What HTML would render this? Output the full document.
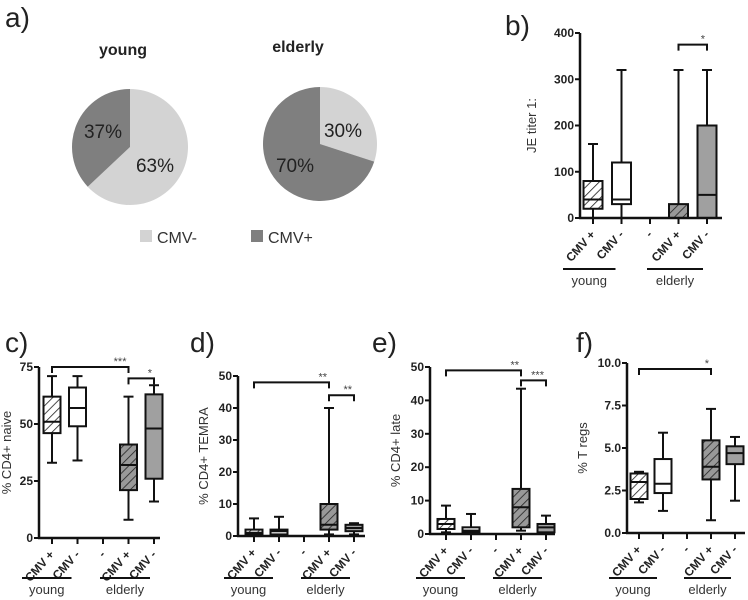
<!DOCTYPE html>
<html><head><meta charset="utf-8"><style>
body{margin:0;background:#fff}
svg{display:block;font-family:"Liberation Sans",Arial,sans-serif}
</style></head><body>
<svg id="fig" width="748" height="600" viewBox="0 0 748 600" xmlns="http://www.w3.org/2000/svg">
<defs>
<pattern id="hatch" width="6" height="6" patternUnits="userSpaceOnUse" patternTransform="rotate(45)">
<line x1="0" y1="0" x2="0" y2="6" stroke="#222" stroke-width="1.6"/>
</pattern>
</defs>
<g id="panelA">
<text x="5" y="27" font-size="28" fill="#222">a)</text>
<text x="123" y="55" font-size="16" font-weight="bold" text-anchor="middle" fill="#222">young</text>
<text x="298" y="52" font-size="16" font-weight="bold" text-anchor="middle" fill="#222">elderly</text>
<rect x="140" y="230" width="12" height="12" fill="#d3d3d3"/>
<text x="157" y="243" font-size="16" fill="#333">CMV-</text>
<rect x="251" y="230" width="12" height="12" fill="#7f7f7f"/>
<text x="268" y="243" font-size="16" fill="#333">CMV+</text>
</g>
</svg>
<script>
const pieGroups=['young','elderly'];
const pieNeg=[63,30];
const piePos=[37,70];

const cats=['CMV +','CMV -','-','CMV +','CMV -'];
const bTicks=[0,100,200,300,400];
const bLow=[0,0,null,0,0], bQ1=[20,30,null,0,0], bMed=[40,40,null,null,50], bQ3=[80,120,null,30,200], bHigh=[160,320,null,320,320];
const cTicks=[0,25,50,75];
const cLow=[33,34,null,8,16], cQ1=[46,49,null,21,26], cMed=[51,57,null,32,48], cQ3=[62,66,null,41,63], cHigh=[71,71,null,62,67];
const dTicks=[0,10,20,30,40,50];
const dLow=[0,0,null,0.5,0.5], dQ1=[0.5,0.5,null,2,1.5], dMed=[1,1.5,null,3.5,2.5], dQ3=[2,2,null,10,3.5], dHigh=[5.5,6,null,40,4];
const eTicks=[0,10,20,30,40,50];
const eLow=[0.5,0,null,1,0], eQ1=[1.5,0.5,null,2,0.5], eMed=[3,1,null,8,2], eQ3=[4.5,2,null,13.5,3], eHigh=[8.5,6,null,43.5,5.5];
const fTicks=[0,2.5,5,7.5,10];
const fTickLabels=['0.0','2.5','5.0','7.5','10.0'];
const fLow=[1.8,1.3,null,0.75,1.9], fQ1=[2.0,2.35,null,3.15,4.05], fMed=[3.0,2.9,null,3.9,4.7], fQ3=[3.5,4.35,null,5.45,5.1], fHigh=[3.6,5.9,null,7.3,5.65];

const NS='http://www.w3.org/2000/svg';
const svg=document.getElementById('fig');
function mk(tag,attrs,parent){const e=document.createElementNS(NS,tag);for(const k in attrs)e.setAttribute(k,attrs[k]);(parent||svg).appendChild(e);return e;}

// pies
const pieCx=[130,320], pieCy=[147,144], pieR=[58,57];
const pieLblNeg=[[155,172],[343,137]], pieLblPos=[[103,138],[295,172]];
pieGroups.forEach((g,i)=>{
  const cx=pieCx[i],cy=pieCy[i],r=pieR[i];
  const tot=pieNeg[i]+piePos[i];
  const a1=pieNeg[i]/tot*2*Math.PI;
  const px=cx+r*Math.sin(a1),py=cy-r*Math.cos(a1);
  const neg=mk('path',{d:`M${cx},${cy}L${cx},${cy-r}A${r},${r} 0 ${a1>Math.PI?1:0} 1 ${px},${py}Z`,fill:'#d3d3d3'});
  
  
  const pos=mk('path',{d:`M${cx},${cy}L${px},${py}A${r},${r} 0 ${a1<Math.PI?1:0} 1 ${cx},${cy-r}Z`,fill:'#7f7f7f'});
  
  
  const t1=mk('text',{x:pieLblNeg[i][0],y:pieLblNeg[i][1],'font-size':19,'text-anchor':'middle',fill:'#222'});
  t1.textContent=pieNeg[i]+'%';
  
  
  const t2=mk('text',{x:pieLblPos[i][0],y:pieLblPos[i][1],'font-size':19,'text-anchor':'middle',fill:'#222'});
  t2.textContent=piePos[i]+'%';
  
  
});

const fills=['url(#hatch)','#fff',null,'url(#hatch)','#a0a0a0'];
const bgs=['#fff','#fff',null,'#999','#a0a0a0'];

function panel(p){
  const g=mk('g',{});
  
  
  const y=v=>p.y0+(v-p.vmin)/(p.vmax-p.vmin)*(p.yTop-p.y0);
  const x=i=>p.x0+i*p.step;
  const lab=mk('text',{x:p.lx,y:p.ly,'font-size':28,fill:'#222'},g);lab.textContent=p.id+')';
  
  
  const yt=mk('text',{transform:`translate(${p.ax-p.yo},${(p.y0+y(p.vmax))/2}) rotate(-90)`,'font-size':13,'text-anchor':'middle',fill:'#333'},g);
  yt.textContent=p.ylab;
  
  
  for(let i=0;i<5;i++){
    if(p.hi[i]==null)continue;
    const cx=x(i),w=p.bw;
    mk('line',{x1:cx,x2:cx,y1:y(p.lo[i]),y2:y(p.hi[i]),stroke:'#111','stroke-width':2},g);
    mk('line',{x1:cx-5,x2:cx+5,y1:y(p.hi[i]),y2:y(p.hi[i]),stroke:'#111','stroke-width':2},g);
    mk('line',{x1:cx-5,x2:cx+5,y1:y(p.lo[i]),y2:y(p.lo[i]),stroke:'#111','stroke-width':2},g);
    const yb=y(p.q1[i]),yt2=y(p.q3[i]);
    mk('rect',{x:cx-w/2,y:yt2,width:w,height:yb-yt2,fill:bgs[i]},g);
    const bx=mk('rect',{x:cx-w/2,y:yt2,width:w,height:yb-yt2,fill:fills[i],stroke:'#111','stroke-width':2},g);
    
    
    if(p.med[i]!=null)mk('line',{x1:cx-w/2,x2:cx+w/2,y1:y(p.med[i]),y2:y(p.med[i]),stroke:'#111','stroke-width':2},g);
  }
  const ya=mk('line',{x1:p.ax,x2:p.ax,y1:p.y0+1,y2:y(p.vmax),stroke:'#111','stroke-width':2.5},g);
  
  
  const xa=mk('line',{x1:p.ax-1,x2:p.xe,y1:p.y0,y2:p.y0,stroke:'#111','stroke-width':2.5},g);
  
  
  p.ticks.forEach((t,k)=>{
    mk('line',{x1:p.ax-5,x2:p.ax,y1:y(t),y2:y(t),stroke:'#111','stroke-width':2},g);
    const tt=mk('text',{x:p.ax-6,y:y(t)+4,'font-size':12,'font-weight':'bold','text-anchor':'end',fill:'#222'},g);
    tt.textContent=p.tl?p.tl[k]:t;
    
    
  });
  for(let i=0;i<5;i++){
    const cx=x(i);
    mk('line',{x1:cx,x2:cx,y1:p.y0,y2:p.y0+6,stroke:'#111','stroke-width':2},g);
    const ct=mk('text',{transform:`translate(${cx+3},${p.y0+17}) rotate(-48)`,'font-size':12,'font-weight':'bold','text-anchor':'end',fill:'#222'},g);
    ct.textContent=cats[i];
    
    
  }
  const gl=[[x(0)-30,x(1)-6,'young'],[x(2)-3,x(4)-4,'elderly']];
  gl.forEach(a=>{
    const l=mk('line',{x1:a[0],x2:a[1],y1:p.gy,y2:p.gy,stroke:'#111','stroke-width':2},g);
    
    
    const t=mk('text',{x:(a[0]+a[1])/2,y:p.gy+16,'font-size':13,'text-anchor':'middle',fill:'#333'},g);
    t.textContent=a[2];
    
    
  });
  p.br.forEach(b=>{
    const x1=x(b[0]),x2=x(b[1]),yy=y(b[2]);
    const br=mk('path',{d:`M${x1},${yy+6}V${yy}H${x2}V${yy+6}`,fill:'none',stroke:'#111','stroke-width':2},g);
    
    
    const s=mk('text',{x:x2-2,y:yy-2,'font-size':11,'text-anchor':'end',fill:'#444'},g);
    s.textContent=b[3];
    
    
  });
}
panel({id:'b',lx:505,ly:35,ax:580,yo:44,xe:722,y0:218,yTop:33,vmin:0,vmax:400,x0:593,step:28.5,bw:19,ticks:bTicks,ylab:'JE titer 1:',lo:bLow,q1:bQ1,med:bMed,q3:bQ3,hi:bHigh,gy:269,br:[[3,4,375,'*']]});
panel({id:'c',lx:5,ly:352,ax:39,yo:28,xe:160,y0:538,yTop:367,vmin:0,vmax:75,x0:52,step:25.5,bw:17,ticks:cTicks,ylab:'% CD4+ naive',lo:cLow,q1:cQ1,med:cMed,q3:cQ3,hi:cHigh,gy:578,br:[[0,3,75,'***'],[3,4,70,'*']]});
panel({id:'d',lx:190,ly:352,ax:238,yo:30,xe:365,y0:536,yTop:376,vmin:0,vmax:50,x0:254,step:25,bw:17,ticks:dTicks,ylab:'% CD4+ TEMRA',lo:dLow,q1:dQ1,med:dMed,q3:dQ3,hi:dHigh,gy:578,br:[[0,3,48,'**'],[3,4,44,'**']]});
panel({id:'e',lx:372,ly:352,ax:430,yo:30,xe:555,y0:534,yTop:367,vmin:0,vmax:50,x0:446,step:25,bw:17,ticks:eTicks,ylab:'% CD4+ late',lo:eLow,q1:eQ1,med:eMed,q3:eQ3,hi:eHigh,gy:578,br:[[0,3,49,'**'],[3,4,46,'***']]});
panel({id:'f',lx:576,ly:352,ax:627,yo:40,xe:745,y0:533,yTop:363,vmin:0,vmax:10,x0:639,step:24,bw:17,ticks:fTicks,tl:fTickLabels,ylab:'% T regs',lo:fLow,q1:fQ1,med:fMed,q3:fQ3,hi:fHigh,gy:578,br:[[0,3,9.65,'*']]});
</script>
</body></html>
